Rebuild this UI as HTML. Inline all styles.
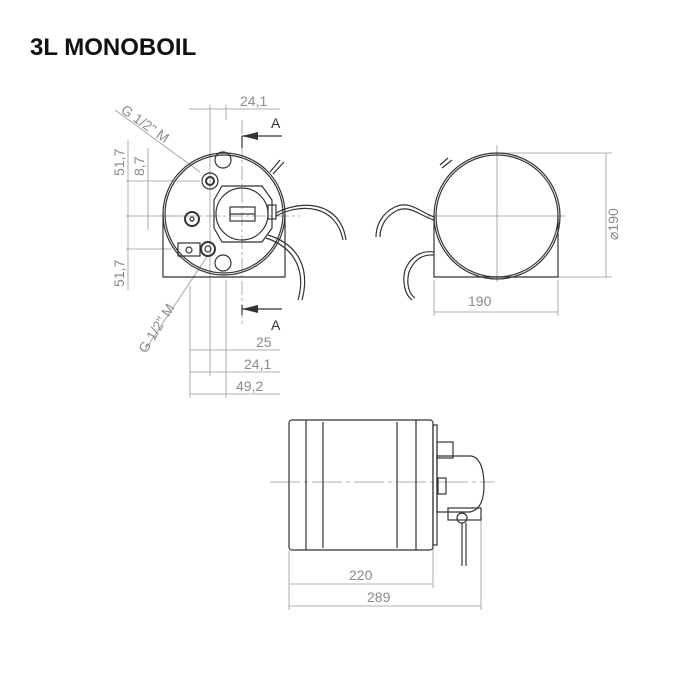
<!DOCTYPE html>
<html><head><meta charset="utf-8"><style>
html,body{margin:0;padding:0;background:#fff;width:700px;height:700px;overflow:hidden}
svg text{font-family:"Liberation Sans",sans-serif;fill:#8a8a8a}
</style></head><body>
<svg width="700" height="700" viewBox="0 0 700 700" xmlns="http://www.w3.org/2000/svg">
<text x="30" y="55" style="font-weight:bold;font-size:24px;fill:#111">3L MONOBOIL</text>
<g fill="none" stroke="#999" stroke-width="0.8">
<line x1="189" y1="109" x2="280" y2="109"/><line x1="210" y1="105" x2="210" y2="300"/><line x1="226" y1="105" x2="226" y2="120"/>
<line x1="190" y1="350" x2="280" y2="350"/><line x1="190" y1="372" x2="280" y2="372"/><line x1="190" y1="394" x2="280" y2="394"/>
<line x1="190" y1="285" x2="190" y2="398"/><line x1="210" y1="300" x2="210" y2="376"/><line x1="226" y1="280" x2="226" y2="398"/>
<line x1="126" y1="181" x2="200" y2="181"/><line x1="126" y1="216" x2="185" y2="216"/><line x1="126" y1="249" x2="172" y2="249"/>
<line x1="128" y1="140" x2="128" y2="290"/><line x1="148" y1="148" x2="148" y2="230"/>
<line x1="115" y1="110" x2="200" y2="172"/><line x1="145" y1="350" x2="208" y2="255"/>
<line x1="242" y1="120" x2="242" y2="325" stroke-dasharray="14 3 3 3"/>
<line x1="160" y1="216" x2="300" y2="216" stroke-dasharray="14 3 3 3"/>
<line x1="497" y1="145" x2="497" y2="282"/><line x1="427" y1="216" x2="565" y2="216"/>
<line x1="497" y1="153" x2="612" y2="153"/><line x1="558" y1="277" x2="612" y2="277"/>
<line x1="606" y1="153" x2="606" y2="277"/>
<line x1="434" y1="280" x2="434" y2="316"/><line x1="558" y1="280" x2="558" y2="316"/><line x1="434" y1="312" x2="558" y2="312"/>
<line x1="270" y1="482" x2="495" y2="482" stroke-dasharray="30 4 4 4"/>
<line x1="289" y1="550" x2="289" y2="610"/><line x1="433" y1="540" x2="433" y2="588"/><line x1="481" y1="520" x2="481" y2="610"/>
<line x1="289" y1="584" x2="433" y2="584"/><line x1="289" y1="606" x2="481" y2="606"/>
</g>
<g font-size="14">
<text x="240" y="106">24,1</text>
<text x="256" y="347">25</text>
<text x="244" y="369">24,1</text>
<text x="236" y="391">49,2</text>
<text x="468" y="306">190</text>
<text x="349" y="580">220</text>
<text x="367" y="602">289</text>
<text transform="translate(124,176) rotate(-90)">51,7</text>
<text transform="translate(144,176) rotate(-90)">8,7</text>
<text transform="translate(124,287) rotate(-90)">51,7</text>
<text transform="translate(618,240) rotate(-90)">⌀190</text>
<text transform="translate(120,112) rotate(35)">G 1/2" M</text>
<text transform="translate(146,354) rotate(-58)">G 1/2" M</text>
<text x="271" y="128" style="fill:#333">A</text>
<text x="271" y="330" style="fill:#333">A</text>
</g>
<g fill="none" stroke="#333" stroke-width="1.2">
<line x1="242" y1="136" x2="242" y2="148"/><line x1="242" y1="136" x2="282" y2="136"/>
<line x1="242" y1="305" x2="242" y2="315"/><line x1="242" y1="309" x2="282" y2="309"/>
<circle cx="224" cy="214" r="61"/><circle cx="224" cy="214" r="59"/>
<polyline points="163,214 163,277 285,277 285,214"/>
<circle cx="223" cy="160" r="8"/><circle cx="223" cy="263" r="8"/>
<circle cx="210" cy="181" r="8"/><circle cx="210" cy="181" r="4" stroke-width="2"/>
<circle cx="192" cy="219" r="7" stroke-width="2"/><circle cx="192" cy="219" r="2"/>
<circle cx="208" cy="249" r="7" stroke-width="2"/><circle cx="208" cy="249" r="3"/>
<rect x="178" y="243" width="22" height="13"/><circle cx="189" cy="250" r="3"/>
<polygon points="214,200 222,186 262,186 272,200 272,228 262,242 222,242 214,228"/>
<circle cx="242" cy="214" r="26"/>
<rect x="230" y="207" width="25" height="14"/><line x1="230" y1="214" x2="255" y2="214"/>
<rect x="268" y="205" width="8" height="14"/>
<path d="M276 213 C300 200 340 200 346 240" /><path d="M276 216 C300 203 336 204 343 240"/>
<path d="M268 235 C300 245 310 270 302 300"/><path d="M266 238 C296 248 306 272 298 300"/>
<line x1="270" y1="172" x2="280" y2="160"/><line x1="273" y1="174" x2="284" y2="162"/>
<circle cx="497" cy="216" r="63"/><circle cx="497" cy="216" r="61"/>
<polyline points="434,216 434,277 558,277 558,216"/>
<path d="M434 217 C420 212 410 200 395 207 C380 214 376 228 376 237"/>
<path d="M434 220 C420 216 410 204 396 211 C383 218 380 230 380 237"/>
<path d="M434 252 C420 250 410 258 405 270 C402 282 405 295 412 300"/>
<path d="M434 255 C420 254 413 262 409 272 C406 284 409 294 415 298"/>
<line x1="440" y1="165" x2="448" y2="158"/><line x1="442" y1="168" x2="452" y2="160"/>
<rect x="289" y="420" width="144" height="130" rx="3"/>
<line x1="306" y1="420" x2="306" y2="550"/><line x1="323" y1="422" x2="323" y2="548"/>
<line x1="397" y1="422" x2="397" y2="548"/><line x1="416" y1="420" x2="416" y2="550"/>
<rect x="433" y="425" width="4" height="120"/>
<rect x="437" y="442" width="16" height="16"/>
<path d="M437 456 L470 456 C480 456 484 470 484 485 C484 500 480 510 470 512 L437 512 Z"/>
<rect x="438" y="478" width="8" height="16"/>
<rect x="448" y="508" width="33" height="12"/><circle cx="462" cy="518" r="5"/>
<line x1="462" y1="523" x2="462" y2="566"/><line x1="466" y1="523" x2="466" y2="566"/>
</g>
<g fill="#333">
<polygon points="242,136 258,132 258,140"/><polygon points="242,309 258,305 258,313"/>
</g>
</svg>
</body></html>
